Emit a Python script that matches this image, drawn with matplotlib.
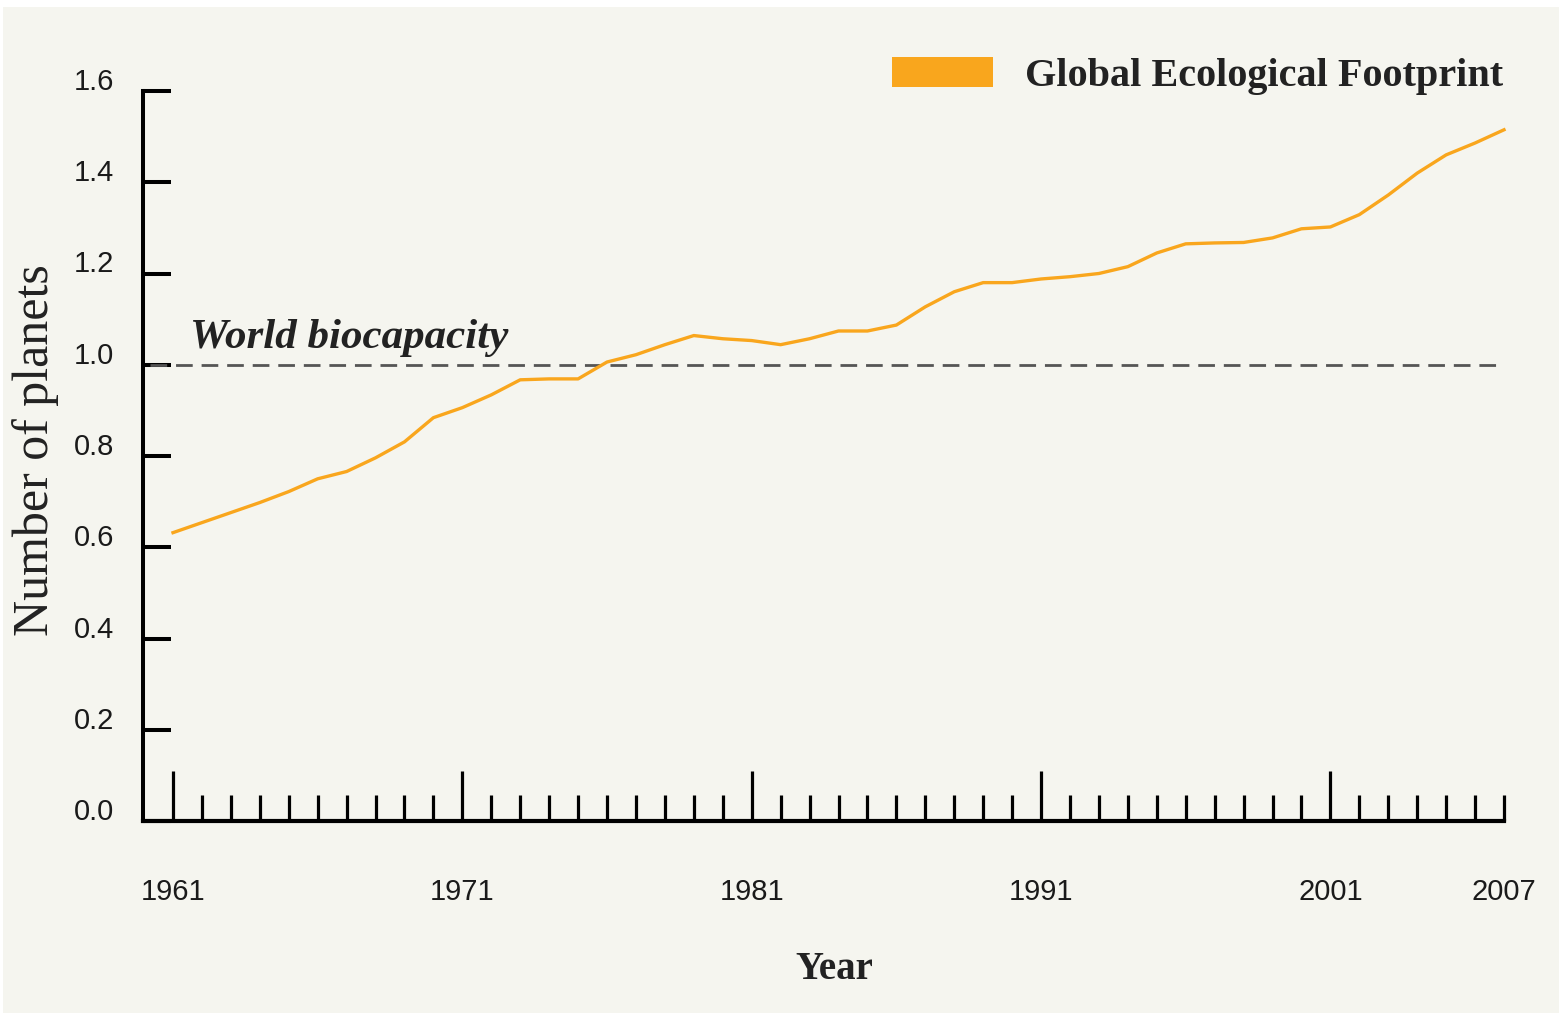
import numpy as np
import matplotlib
matplotlib.use("Agg")
import matplotlib.pyplot as plt
from matplotlib.patches import Patch, Rectangle
from matplotlib.transforms import ScaledTranslation

# Global Ecological Footprint, number of planets, 1961-2007
years = list(range(1961, 2008))
footprint = [0.632, 0.654, 0.676, 0.698, 0.722, 0.750, 0.766, 0.796, 0.831, 0.884,
             0.906, 0.934, 0.967, 0.969, 0.969, 1.006, 1.022, 1.044, 1.064, 1.057,
             1.053, 1.044, 1.057, 1.074, 1.074, 1.087, 1.127, 1.160, 1.180, 1.180,
             1.188, 1.193, 1.200, 1.215, 1.245, 1.265, 1.267, 1.268, 1.278, 1.298,
             1.302, 1.329, 1.372, 1.420, 1.460, 1.486, 1.515]
biocapacity = 1.0

x_labels = [1961, 1971, 1981, 1991, 2001, 2007]
y_ticks = [0.0, 0.2, 0.4, 0.6, 0.8, 1.0, 1.2, 1.4, 1.6]

bg = '#f5f5ef'
orange = '#f9a61d'
sans = ['Liberation Sans', 'DejaVu Sans']
serif = ['Liberation Serif', 'DejaVu Serif']

fig = plt.figure(figsize=(15.62, 10.15), dpi=100, facecolor='white')
fig.patches.append(Rectangle((0.002, 0.002), 0.996, 0.991, transform=fig.transFigure,
                             facecolor=bg, edgecolor='none', zorder=-10))
ax = fig.add_axes([143 / 1562, 1 - 821 / 1015, 1361 / 1562, 730 / 1015])
ax.set_facecolor('none')

ax.plot(years, footprint, color=orange, lw=2.4, clip_on=False, zorder=3)
ax.axhline(biocapacity, xmin=0.005, xmax=1, color='#555555', lw=2.0,
           dashes=(6, 3.2), zorder=2)
ax.text(1961.6, 1.036, 'World biocapacity', fontsize=31, fontstyle='italic',
        fontweight='bold', family=serif, color='#222222', va='baseline')

ax.set_xlim(1959.963, 2007)
ax.set_ylim(0, 1.6)

for s in ['top', 'right']:
    ax.spines[s].set_visible(False)
ax.spines['left'].set_linewidth(2.9)
ax.spines['bottom'].set_linewidth(3.0)
ax.spines['left'].set_bounds(0, 1.6)

ax.set_xticks(x_labels)
ax.set_xticklabels([str(y) for y in x_labels])
ax.set_xticks(years, minor=True)
ax.tick_params(axis='x', which='major', direction='in', length=36, width=2.3,
               pad=41, labelsize=21, color='black')
ax.tick_params(axis='x', which='minor', direction='in', length=18.5, width=2.3)
ax.xaxis.get_major_ticks()[-1].tick1line.set_markersize(18.5)

ax.set_yticks(y_ticks)
ax.set_yticklabels(['%.1f' % v for v in y_ticks])
ax.tick_params(axis='y', direction='in', length=20, width=2.9, pad=21, labelsize=21)
for lab in ax.get_xticklabels() + ax.get_yticklabels():
    lab.set_family(sans)
    lab.set_color('#1a1a1a')
for lab in ax.get_yticklabels():
    lab.set_transform(lab.get_transform() + ScaledTranslation(0, 0.12, fig.dpi_scale_trans))

ax.set_xlabel('Year', fontsize=28, family=serif, fontweight='bold', color='#222222')
ax.xaxis.set_label_coords(0.508, -0.204)
ax.xaxis.label.set_va('center')
ax.set_ylabel('Number of planets', fontsize=36, family=serif, color='#222222')
ax.yaxis.set_label_coords(-0.079, 0.508)
ax.yaxis.label.set_va('center')

leg = ax.legend(handles=[Patch(facecolor=orange, edgecolor='none')],
                labels=['Global Ecological Footprint'], loc='center right',
                bbox_to_anchor=(1503 / 1562, 1 - 76 / 1015), bbox_transform=fig.transFigure,
                frameon=False, prop={'family': serif, 'size': 29, 'weight': 'bold'},
                handlelength=2.5, handleheight=0.75, handletextpad=0.8,
                borderpad=0, borderaxespad=0)
for t in leg.get_texts():
    t.set_color('#222222')

fig.savefig('out.png', dpi=100, facecolor=fig.get_facecolor())
